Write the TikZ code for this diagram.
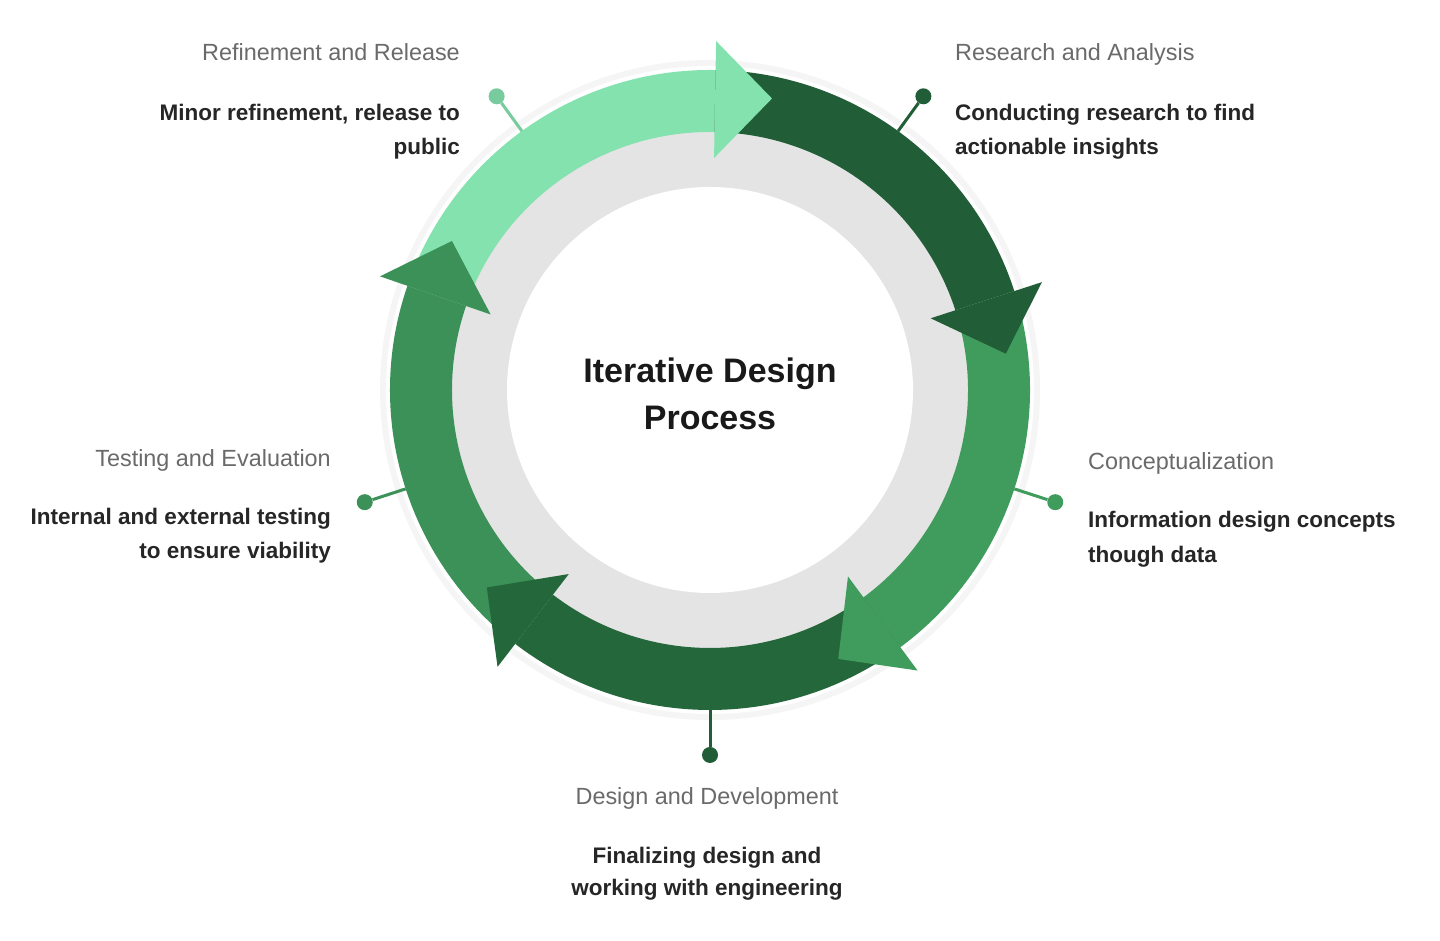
\documentclass[tikz,border=0pt]{standalone}
\usepackage{fontspec}
\setmainfont{Liberation Sans}
\definecolor{mint}{HTML}{84E2AE}
\definecolor{darkA}{HTML}{215E37}
\definecolor{darkB}{HTML}{24673B}
\definecolor{medR}{HTML}{3F9C5D}
\definecolor{medL}{HTML}{3B9157}
\definecolor{ringgray}{HTML}{E4E4E4}
\definecolor{titlegray}{HTML}{6A6A6A}
\definecolor{textdark}{HTML}{262626}
\newcommand\ringband[3]{\fill[#3] (#1:320pt) arc[start angle=#1,end angle=#2,radius=320pt] -- (#2:258pt) arc[start angle=#2,end angle=#1,radius=258pt] -- cycle;}
\newcommand\ringhead[2]{\fill[#2] (#1:232pt) -- (#1:349pt) -- ({#1-11}:298pt) -- cycle;}
\begin{document}
\begin{tikzpicture}[x=1pt,y=1pt,
  ttl/.style={font=\fontsize{23.4}{27}\selectfont, text=titlegray, inner sep=0pt},
  desc/.style={font=\bfseries\fontsize{22.5}{30}\selectfont, text=textdark, inner sep=0pt},
  ctr/.style={font=\bfseries\fontsize{34}{40}\selectfont, text=black!90, inner sep=0pt},
  dot/.style={circle, minimum size=16pt, inner sep=0pt, fill=#1},
  lnk/.style={line width=3pt, draw=#1}]
\useasboundingbox (0,0) rectangle (1440,941);
\fill[white] (0,0) rectangle (1440,941);
\coordinate (c) at (710,551);
\begin{scope}[shift={(710,551)}]
  % soft shadow
  \fill[black!4] (0,0) circle[radius=330pt];
  \fill[white] (0,0) circle[radius=324pt];
  \fill[ringgray] (0,0) circle[radius=262pt];
  \fill[white] (0,0) circle[radius=203pt];
  % bands
  \ringband{161}{89}{mint}
  \ringband{89}{18}{darkA}
  \ringband{18}{-53.5}{medR}
  \ringband{-53.5}{-127.5}{darkB}
  \ringband{-127.5}{-199}{medL}
  % heads
  \ringhead{89}{mint}
  \ringhead{18}{darkA}
  \ringhead{-53.5}{medR}
  \ringhead{-127.5}{darkB}
  \ringhead{-199}{medL}
  % connector ends and dots
  \coordinate (eRef) at (126:320pt);
  \coordinate (eRes) at (54:320pt);
  \coordinate (eCon) at (-18:320pt);
  \coordinate (eDes) at (-90:320pt);
  \coordinate (eTes) at (-162:320pt);
  \node[dot=mint!90!black] (dRef) at (126:363pt) {};
  \node[dot=darkA] (dRes) at (54:363pt) {};
  \node[dot=medR] (dCon) at (-18:363pt) {};
  \node[dot=darkA] (dDes) at (-90:365pt) {};
  \node[dot=medL] (dTes) at (-162:363pt) {};
\end{scope}
\draw[lnk=mint!90!black] (dRef) -- (eRef);
\draw[lnk=darkA] (dRes) -- (eRes);
\draw[lnk=medR] (dCon) -- (eCon);
\draw[lnk=darkA] (dDes) -- (eDes);
\draw[lnk=medL] (dTes) -- (eTes);
% centre
\node[ctr, anchor=base] (c1) at (710,558) {Iterative Design};
\node[ctr, anchor=base] (c2) at (710,511) {Process};
% Refinement
\node[ttl, anchor=base east] (t1) at (460,880) {Refinement and Release};
\node[desc, anchor=base east] (d1a) at (460,820) {Minor refinement, release to};
\node[desc, anchor=base east] (d1b) at (460,786) {public};
% Research
\node[ttl, anchor=base west] (t2) at (955,880) {Research and Analysis};
\node[desc, anchor=base west] (d2a) at (955,820) {Conducting research to find};
\node[desc, anchor=base west] (d2b) at (955,786) {actionable insights};
% Conceptualization
\node[ttl, anchor=base west] (t3) at (1088,471) {Conceptualization};
\node[desc, anchor=base west] (d3a) at (1088,413) {Information design concepts};
\node[desc, anchor=base west] (d3b) at (1088,378) {though data};
% Design
\node[ttl, anchor=base] (t4) at (707,136) {Design and Development};
\node[desc, anchor=base] (d4a) at (707,77) {Finalizing design and};
\node[desc, anchor=base] (d4b) at (707,45) {working with engineering};
% Testing
\node[ttl, anchor=base east] (t5) at (331,474) {Testing and Evaluation};
\node[desc, anchor=base east] (d5a) at (331,416) {Internal and external testing};
\node[desc, anchor=base east] (d5b) at (331,382) {to ensure viability};
\end{tikzpicture}
\end{document}
